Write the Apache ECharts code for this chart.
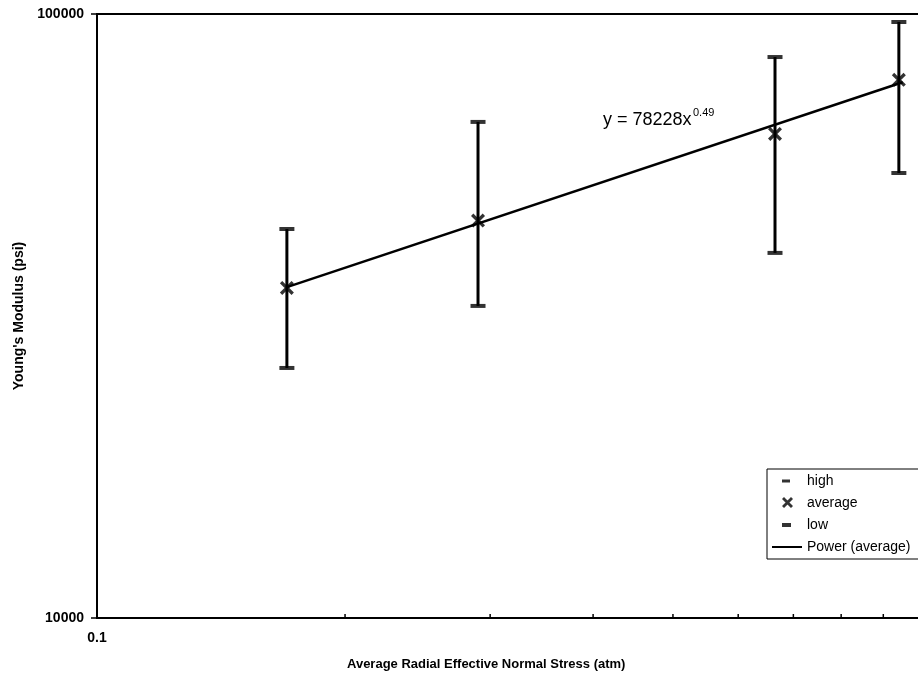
<!DOCTYPE html>
<html>
<head>
<meta charset="utf-8">
<script src="https://cdn.jsdelivr.net/npm/echarts@6/dist/echarts.min.js"></script>
<style>html,body{margin:0;padding:0;background:#fff;}#c{width:918px;height:677px;}</style>
</head>
<body>
<div id="c"></div>
<script>
// ---- data ----
const stressValues = [0.17, 0.29, 0.665, 0.94];          // Average radial effective normal stress (atm)
const highValues   = [44060, 66270, 84870, 97000];       // psi
const averageValues= [35200, 45500, 63300, 77800];       // psi
const lowValues    = [25940, 32860, 40220, 54550];       // psi
const trendX       = [0.17, 0.95];                       // Power (average) fitted line end points
const trendY       = [35300, 77100];
const minorTickValues = [0.2, 0.3, 0.4, 0.5, 0.6, 0.7, 0.8, 0.9];
const equationMain = 'y = 78228x';
const equationExp  = '0.49';

const FONT = 'Arial, "Liberation Sans", sans-serif';
const xPath = 'path://M0,2 L2,0 L12,10 L10,12 Z M10,0 L12,2 L2,12 L0,10 Z';
const capIconHigh = 'path://M0,0 M30,14 M10,5.5 L18,5.5 L18,8.5 L10,8.5 Z';
const capIconLow  = 'path://M0,0 M30,14 M10,5 L19,5 L19,9 L10,9 Z';
const xIcon = 'path://M0,0 M30,14 M10,3 L12,1 L21,10 L19,12 Z M19,1 L21,3 L12,12 L10,10 Z';
const lineIcon = 'path://M0,6 L30,6 L30,8 L0,8 Z';

const chart = echarts.init(document.getElementById('c'), null, {renderer: 'canvas'});

const option = {
  animation: false,
  backgroundColor: '#fff',
  grid: { left: 97, top: 14, width: 824, height: 604, outerBoundsMode: 'none', containLabel: false,
          show: true, borderColor: '#000', borderWidth: 2, backgroundColor: 'transparent' },
  xAxis: {
    type: 'log', logBase: 10, min: 0.1, max: 1,
    axisLine: { lineStyle: { color: '#000', width: 2 } },
    axisTick: { show: false },
    splitLine: { show: false },
    axisLabel: { color: '#000', fontFamily: FONT, fontWeight: 'bold', fontSize: 14, margin: 13, showMaxLabel: false }
  },
  yAxis: {
    type: 'log', logBase: 10, min: 10000, max: 100000,
    name: "Young's Modulus (psi)",
    nameLocation: 'middle', nameGap: 70,
    nameTextStyle: { color: '#000', fontFamily: FONT, fontWeight: 'bold', fontSize: 14 },
    axisLine: { lineStyle: { color: '#000', width: 2 } },
    axisTick: { show: true, length: 6, lineStyle: { color: '#000', width: 1.5 } },
    splitLine: { show: false },
    axisLabel: { color: '#000', fontFamily: FONT, fontWeight: 'bold', fontSize: 14, margin: 13,
      formatter: function (v) { return String(Math.round(v)); } }
  },
  legend: {
    orient: 'vertical', left: 767, top: 469,
    padding: [5, 40, 5, 5],
    itemWidth: 30, itemHeight: 14, itemGap: 8,
    borderColor: '#000', borderWidth: 1, backgroundColor: '#fff',
    textStyle: { color: '#000', fontFamily: FONT, fontSize: 14 },
    data: [
      { name: 'high', icon: capIconHigh },
      { name: 'average', icon: xIcon },
      { name: 'low', icon: capIconLow },
      { name: 'Power (average)', icon: lineIcon }
    ]
  },
  graphic: [
    { type: 'text', left: 347, top: 658, style: { text: 'Average Radial Effective Normal Stress (atm)', fill: '#000', font: 'bold 13px ' + FONT } },
    { type: 'text', left: 603, top: 111, style: { text: equationMain, fill: '#000', font: '18px ' + FONT } },
    { type: 'text', left: 693, top: 107, style: { text: equationExp, fill: '#000', font: '11px ' + FONT } }
  ],
  series: [
    {
      name: 'bars', type: 'custom', z: 2, silent: true,
      data: stressValues.map((x, i) => [x, lowValues[i], highValues[i]]),
      renderItem: function (params, api) {
        const p1 = api.coord([api.value(0), api.value(1)]);
        const p2 = api.coord([api.value(0), api.value(2)]);
        return { type: 'line', shape: { x1: p1[0], y1: p1[1], x2: p2[0], y2: p2[1] }, style: { stroke: '#000', lineWidth: 3 } };
      }
    },
    {
      name: 'minorTicks', type: 'custom', z: 2, silent: true, clip: false,
      data: minorTickValues.map(v => [v, 10000]),
      renderItem: function (params, api) {
        const p = api.coord([api.value(0), api.value(1)]);
        return { type: 'line', shape: { x1: p[0], y1: p[1], x2: p[0], y2: p[1] - 4 }, style: { stroke: '#000', lineWidth: 1.5 } };
      }
    },
    {
      name: 'Power (average)', type: 'line', z: 3, symbol: 'none',
      data: trendX.map((x, i) => [x, trendY[i]]),
      lineStyle: { color: '#000', width: 2.5 }, itemStyle: { color: '#000' }
    },
    {
      name: 'high', type: 'scatter', z: 4, symbol: 'rect', symbolSize: [15, 4],
      data: stressValues.map((x, i) => [x, highValues[i]]),
      itemStyle: { color: '#000' }
    },
    {
      name: 'low', type: 'scatter', z: 4, symbol: 'rect', symbolSize: [15, 4],
      data: stressValues.map((x, i) => [x, lowValues[i]]),
      itemStyle: { color: '#000' }
    },
    {
      name: 'average', type: 'scatter', z: 5, symbol: xPath, symbolSize: 14,
      data: stressValues.map((x, i) => [x, averageValues[i]]),
      itemStyle: { color: '#000' }
    }
  ]
};
chart.setOption(option);
</script>
</body>
</html>
